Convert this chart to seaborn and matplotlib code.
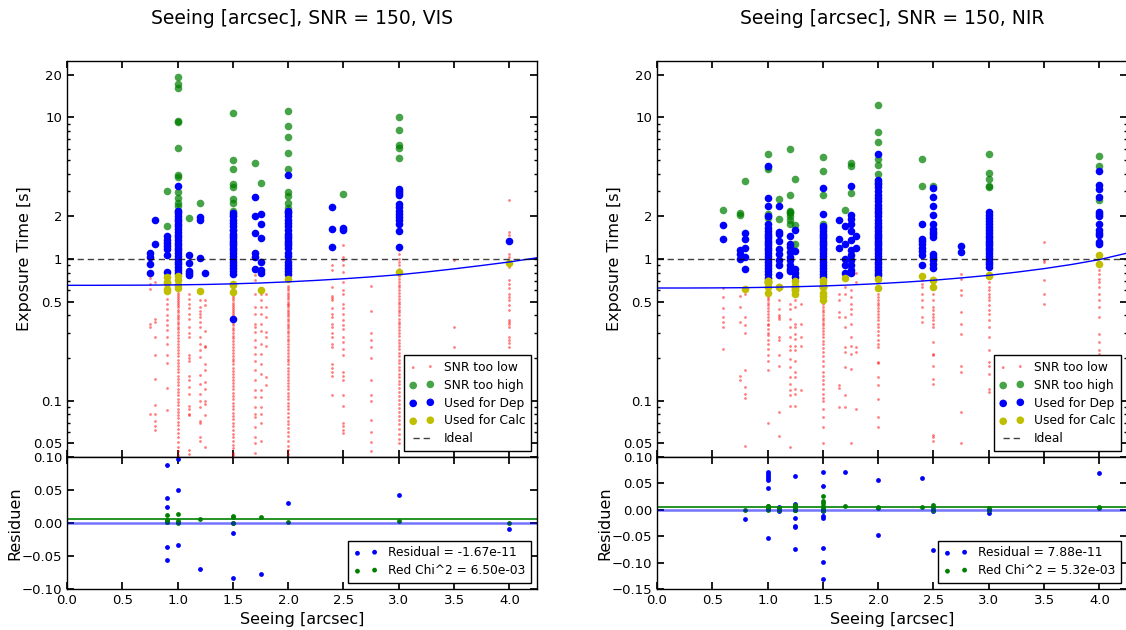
import numpy as np
import pandas as pd
import matplotlib
matplotlib.use("Agg")
import matplotlib.pyplot as plt
import seaborn as sns
from matplotlib.ticker import (FixedLocator, FixedFormatter, LogLocator,
                               NullFormatter, FuncFormatter)

# ---------------------------------------------------------------- VIS data
vis_low_seeing = [0.75, 0.8, 0.9, 1.0, 1.1, 1.2, 1.25, 1.5, 1.7, 1.75, 1.8,
                  2.0, 2.4, 2.5, 2.75, 3.0, 3.5, 4.0]
vis_low_times = [
    [0.73, 0.67, 0.61, 0.35, 0.33, 0.081],
    [0.69, 0.38, 0.36, 0.28, 0.21, 0.143, 0.093, 0.081, 0.072, 0.066, 0.062],
    [0.52, 0.485, 0.447, 0.40, 0.37, 0.34, 0.315, 0.28, 0.253, 0.21, 0.183, 0.122, 0.086],
    [0.60, 0.58, 0.56, 0.54, 0.52, 0.505, 0.49, 0.47, 0.455, 0.44, 0.42, 0.405, 0.39,
     0.375, 0.36, 0.345, 0.33, 0.318, 0.305, 0.29, 0.278, 0.265, 0.252, 0.24, 0.228,
     0.216, 0.205, 0.195, 0.185, 0.176, 0.167, 0.158, 0.15, 0.142, 0.135, 0.128, 0.121,
     0.115, 0.109, 0.103, 0.098, 0.093, 0.088, 0.083, 0.079, 0.075, 0.071, 0.067, 0.063,
     0.059, 0.055, 0.051, 0.047, 0.044, 0.041],
    [0.57, 0.52, 0.48, 0.45, 0.41, 0.38, 0.33, 0.30, 0.28, 0.21, 0.20, 0.19, 0.15, 0.14,
     0.125, 0.112, 0.092, 0.087, 0.081, 0.079, 0.045, 0.042],
    [0.51, 0.46, 0.43, 0.41, 0.39, 0.36, 0.33, 0.28, 0.25, 0.226, 0.203, 0.151, 0.132,
     0.112, 0.10, 0.09, 0.072, 0.069, 0.055, 0.052],
    [0.51, 0.47, 0.31, 0.245, 0.239, 0.182, 0.164, 0.135, 0.121, 0.10, 0.095, 0.079, 0.047],
    [0.57, 0.55, 0.53, 0.51, 0.49, 0.475, 0.46, 0.445, 0.43, 0.415, 0.40, 0.385, 0.37,
     0.355, 0.34, 0.327, 0.314, 0.30, 0.288, 0.276, 0.264, 0.252, 0.24, 0.229, 0.218,
     0.208, 0.198, 0.189, 0.18, 0.171, 0.163, 0.155, 0.147, 0.14, 0.133, 0.126, 0.12,
     0.114, 0.108, 0.102, 0.097, 0.092, 0.087, 0.082, 0.078, 0.074, 0.07, 0.066, 0.062,
     0.058, 0.055, 0.052, 0.049, 0.046, 0.043, 0.041],
    [1.09, 0.77, 0.71, 0.57, 0.46, 0.41, 0.35, 0.33, 0.305, 0.266, 0.239, 0.214, 0.192,
     0.164, 0.139, 0.118, 0.106, 0.09, 0.081, 0.077, 0.065, 0.055, 0.05, 0.043],
    [0.57, 0.51, 0.46, 0.41, 0.35, 0.31, 0.25, 0.214, 0.182, 0.155, 0.118, 0.106, 0.09,
     0.081, 0.069, 0.052],
    [0.57, 0.46, 0.39, 0.305, 0.281, 0.245, 0.147, 0.128],
    [0.64, 0.62, 0.6, 0.58, 0.56, 0.54, 0.52, 0.5, 0.485, 0.47, 0.455, 0.44, 0.425, 0.41,
     0.395, 0.38, 0.365, 0.35, 0.337, 0.324, 0.311, 0.298, 0.286, 0.274, 0.262, 0.25,
     0.239, 0.228, 0.218, 0.208, 0.198, 0.189, 0.18, 0.171, 0.163, 0.155, 0.147, 0.14,
     0.133, 0.126, 0.12, 0.114, 0.108, 0.102, 0.097, 0.092, 0.087, 0.082, 0.077, 0.072,
     0.068, 0.064, 0.06, 0.056, 0.052, 0.048, 0.045, 0.042],
    [0.90, 0.83, 0.63, 0.55, 0.53, 0.51, 0.45, 0.41, 0.39, 0.35, 0.33, 0.30, 0.28, 0.25,
     0.24, 0.18, 0.17, 0.16, 0.15, 0.11],
    [1.25, 1.03, 0.98, 0.90, 0.81, 0.69, 0.60, 0.57, 0.48, 0.45, 0.41, 0.37, 0.34, 0.32,
     0.28, 0.26, 0.23, 0.21, 0.16, 0.15, 0.14, 0.11, 0.092, 0.069, 0.066, 0.062, 0.059],
    [0.64, 0.43, 0.30, 0.27, 0.24, 0.20, 0.14, 0.11, 0.10, 0.073, 0.06, 0.051, 0.044],
    [1.15, 1.08, 1.0, 0.95, 0.9, 0.85, 0.76, 0.72, 0.69, 0.66, 0.63, 0.6, 0.575, 0.55,
     0.525, 0.5, 0.48, 0.46, 0.44, 0.42, 0.4, 0.38, 0.36, 0.345, 0.33, 0.315, 0.3, 0.285,
     0.27, 0.256, 0.243, 0.23, 0.218, 0.206, 0.195, 0.184, 0.174, 0.164, 0.155, 0.146,
     0.138, 0.13, 0.122, 0.115, 0.108, 0.101, 0.095, 0.089, 0.083, 0.078, 0.073, 0.068,
     0.063, 0.058, 0.054, 0.05],
    [0.98, 0.33, 0.24],
    [2.6, 1.55, 1.47, 1.09, 1.03, 0.92, 0.88, 0.71, 0.67, 0.62, 0.57, 0.54, 0.51, 0.47,
     0.44, 0.37, 0.36, 0.35, 0.33, 0.28, 0.27, 0.255, 0.24],
]

vis_high_seeing = [0.9, 1.0, 1.1, 1.2, 1.5, 1.7, 1.75, 2.0, 2.5, 3.0]
vis_high_times = [
    [3.0, 1.72],
    [19.3, 17.3, 16.0, 9.5, 9.2, 6.1, 3.9, 3.8, 2.95, 2.7, 2.5, 2.35, 2.2],
    [1.96],
    [2.5],
    [10.7, 5.0, 4.3, 3.4, 3.2, 2.65, 2.5, 2.2, 2.05, 1.6],
    [4.8],
    [3.45],
    [11.1, 8.7, 7.3, 5.6, 4.3, 2.95, 2.8, 2.5, 2.3, 2.15],
    [2.9],
    [10.1, 8.2, 6.35, 6.12, 5.2],
]

vis_dep_seeing = [0.75, 0.8, 0.9, 1.0, 1.1, 1.2, 1.25, 1.5, 1.7, 1.75, 2.0, 2.4,
                  2.5, 3.0, 4.0]
vis_dep_times = [
    [1.10, 1.04, 0.92, 0.80],
    [1.90, 1.28],
    [1.45, 1.37, 1.30, 1.24, 1.18, 1.06, 0.81],
    [3.3, 2.2, 2.1, 2.0, 1.92, 1.85, 1.78, 1.7, 1.62, 1.55, 1.48, 1.42, 1.36, 1.3, 1.25,
     1.2, 1.15, 1.1, 1.05, 1.0, 0.96, 0.92, 0.88, 0.84, 0.8],
    [1.06, 0.94, 0.82, 0.79, 0.77],
    [1.98, 1.90, 1.02],
    [0.79],
    [2.1, 2.0, 1.9, 1.8, 1.7, 1.6, 1.5, 1.45, 1.4, 1.35, 1.3, 1.25, 1.2, 1.15, 1.1, 1.05,
     1.0, 0.95, 0.9, 0.86, 0.82, 0.78, 0.38],
    [2.74, 2.02, 1.53, 1.10, 1.04, 0.85],
    [2.07, 1.78, 1.40, 0.96, 0.84, 0.80],
    [3.9, 2.2, 2.1, 2.0, 1.9, 1.8, 1.7, 1.6, 1.5, 1.45, 1.4, 1.35, 1.3, 1.25, 1.2, 1.1,
     1.05, 0.95, 0.9, 0.86, 0.82, 0.78],
    [2.31, 1.63, 1.22],
    [1.66, 1.59],
    [3.14, 3.02, 2.93, 2.82, 2.46, 2.33, 2.18, 2.09, 1.98, 1.88, 1.78, 1.58, 1.22],
    [1.35],
]

vis_calc_seeing = [0.9, 1.0, 1.2, 1.5, 1.75, 2.0, 3.0, 4.0]
vis_calc_times = [
    [0.743, 0.693, 0.679, 0.618, 0.599],
    [0.754, 0.707, 0.657, 0.624],
    [0.594],
    [0.668, 0.653, 0.585],
    [0.60],
    [0.72],
    [0.81],
    [0.944],
]

vis_fit_seeing = [0.0, 0.25, 0.5, 0.75, 1.0, 1.25, 1.5, 1.75, 2.0, 2.25, 2.5, 2.75,
                  3.0, 3.25, 3.5, 3.75, 4.0, 4.25]
vis_fit_time = [0.652, 0.652, 0.653, 0.654, 0.657, 0.661, 0.668, 0.677, 0.690, 0.706,
                0.725, 0.748, 0.774, 0.810, 0.852, 0.900, 0.953, 1.020]

vis_res_seeing = [0.9, 1.0, 1.2, 1.5, 1.75, 2.0, 3.0, 4.0]
vis_residuals = [
    [0.088, 0.038, 0.024, -0.037, -0.056],
    [0.097, 0.050, 0.0015, -0.033],
    [-0.069],
    [0.0, -0.015, -0.083],
    [-0.078],
    [0.030],
    [0.043],
    [-0.009],
]
vis_chi = [
    [0.012, 0.0048, 0.003, 0.002, 0.0012],
    [0.014, 0.0035, 0.0018, 0.0],
    [0.0068],
    [0.0003, 0.0085, 0.010],
    [0.0086],
    [0.0015],
    [0.0025],
    [0.0001],
]
vis_mean_residual = -1.67e-11
vis_red_chi2 = 6.50e-03

# ---------------------------------------------------------------- NIR data
nir_low_seeing = [0.6, 0.75, 0.8, 1.0, 1.1, 1.2, 1.25, 1.3, 1.5, 1.65, 1.7, 1.75,
                  1.8, 2.0, 2.4, 2.5, 2.75, 3.0, 3.5, 4.0]
nir_low_times = [
    [0.62, 0.54, 0.45, 0.39, 0.36, 0.33, 0.23],
    [0.55, 0.46, 0.36, 0.15, 0.14],
    [0.57, 0.39, 0.34, 0.30, 0.164, 0.125, 0.112, 0.104, 0.048],
    [0.57, 0.55, 0.53, 0.51, 0.49, 0.47, 0.45, 0.43, 0.41, 0.39, 0.37, 0.35, 0.34, 0.32,
     0.30, 0.29, 0.27, 0.25, 0.23, 0.21, 0.19, 0.165, 0.07],
    [0.60, 0.51, 0.446, 0.40, 0.389, 0.379, 0.281, 0.266, 0.209, 0.177, 0.083, 0.056],
    [0.484, 0.446, 0.379, 0.331, 0.281, 0.245, 0.226, 0.198, 0.172, 0.147, 0.132, 0.118,
     0.109, 0.092, 0.047],
    [0.51, 0.458, 0.349, 0.331, 0.296, 0.272, 0.245, 0.226, 0.192, 0.159, 0.147, 0.121,
     0.112, 0.092],
    [0.484, 0.349, 0.281, 0.245, 0.118],
    [0.52, 0.5, 0.48, 0.46, 0.44, 0.42, 0.40, 0.385, 0.37, 0.355, 0.34, 0.325, 0.31,
     0.295, 0.28, 0.265, 0.25, 0.235, 0.22, 0.205, 0.19, 0.175, 0.16, 0.15, 0.14, 0.13,
     0.12, 0.112, 0.105, 0.1, 0.087, 0.077, 0.065, 0.05],
    [0.569, 0.51, 0.42, 0.389, 0.128, 0.123, 0.09],
    [0.634, 0.569, 0.389, 0.331, 0.239, 0.22, 0.172, 0.109, 0.09],
    [0.60, 0.54, 0.484, 0.446, 0.411, 0.349, 0.281, 0.245, 0.214, 0.168, 0.05],
    [0.79, 0.688, 0.239, 0.22, 0.088],
    [0.569, 0.54, 0.51, 0.49, 0.47, 0.45, 0.43, 0.41, 0.39, 0.37, 0.35, 0.33, 0.31, 0.29,
     0.27, 0.25, 0.24, 0.188, 0.185, 0.147, 0.128, 0.103, 0.077, 0.065],
    [0.707, 0.669, 0.634, 0.569, 0.51, 0.458, 0.389, 0.36],
    [0.569, 0.51, 0.458, 0.434, 0.411, 0.389, 0.369, 0.349, 0.331, 0.259, 0.214, 0.209,
     0.177, 0.143, 0.132, 0.057, 0.055, 0.052],
    [0.788, 0.726, 0.60, 0.554, 0.422, 0.349, 0.296, 0.177, 0.159, 0.083, 0.05],
    [0.688, 0.634, 0.60, 0.569, 0.54, 0.51, 0.47, 0.434, 0.411, 0.369, 0.331, 0.281,
     0.226, 0.188, 0.177, 0.155, 0.121, 0.115],
    [1.32, 0.99, 0.95, 0.707, 0.569, 0.484],
    [0.902, 0.832, 0.788, 0.726, 0.688, 0.634, 0.569, 0.51, 0.458, 0.389, 0.296, 0.259,
     0.226, 0.214],
]

nir_high_seeing = [0.6, 0.75, 0.8, 1.0, 1.1, 1.2, 1.25, 1.5, 1.7, 1.75, 2.0, 2.4,
                   2.5, 3.0, 4.0]
nir_high_times = [
    [2.23],
    [2.1, 2.03],
    [3.56],
    [5.5, 4.47, 4.3, 2.07, 2.0, 1.95],
    [2.67, 1.93],
    [5.95, 2.83, 2.2, 2.15, 2.1, 2.0, 1.9, 1.78],
    [3.66, 1.74, 1.28],
    [5.26, 4.16, 2.81, 1.78],
    [2.21],
    [4.76, 4.5, 2.94],
    [12.2, 7.9, 6.7, 5.1, 4.6, 4.0, 3.5, 3.45],
    [5.1, 3.3],
    [3.3],
    [5.55, 4.05, 3.7, 3.26, 3.2],
    [5.3, 4.5, 2.6],
]

nir_dep_seeing = [0.6, 0.75, 0.8, 1.0, 1.1, 1.2, 1.25, 1.5, 1.65, 1.7, 1.75, 1.8,
                  2.0, 2.4, 2.5, 2.75, 3.0, 4.0]
nir_dep_times = [
    [1.75, 1.38],
    [1.16, 1.09, 1.0],
    [1.53, 1.39, 1.20, 1.03, 0.85],
    [4.5, 2.7, 2.37, 2.0, 1.78, 1.65, 1.58, 1.5, 1.45, 1.4, 1.35, 1.3, 1.25, 1.2, 1.15,
     1.1, 1.05, 1.0, 0.95, 0.9, 0.86, 0.82, 0.78, 0.74],
    [2.36, 1.55, 1.49, 1.35, 1.18, 1.09, 0.98, 0.90, 0.775],
    [1.45, 1.28, 1.22, 1.12, 1.03, 0.98, 0.90, 0.85, 0.82],
    [1.59, 1.14, 0.85, 0.79, 0.75],
    [3.17, 2.07, 1.72, 1.65, 1.58, 1.5, 1.45, 1.4, 1.35, 1.3, 1.25, 1.2, 1.15, 1.1, 1.05,
     1.0, 0.95, 0.9, 0.86, 0.82, 0.78, 0.75],
    [1.88, 1.39, 1.20],
    [1.71, 1.28, 1.0, 0.90, 0.79],
    [3.26, 2.05, 1.93, 1.78, 1.57, 1.36, 1.15, 1.06, 0.98, 0.90, 0.83, 0.79],
    [1.45, 1.20],
    [5.5, 3.6, 3.4, 3.2, 3.0, 2.85, 2.7, 2.55, 2.4, 2.3, 2.2, 2.1, 2.0, 1.9, 1.8, 1.72,
     1.65, 1.58, 1.5, 1.45, 1.4, 1.35, 1.3, 1.25, 1.2, 1.15, 1.1, 1.05, 1.0, 0.96, 0.92,
     0.88, 0.84, 0.8, 0.77],
    [1.78, 1.39, 1.33, 1.27, 1.2, 1.13, 1.06, 0.90],
    [3.17, 2.74, 2.37, 2.06, 1.78, 1.63, 1.55, 1.49, 1.42, 1.09, 1.03, 0.98, 0.92, 0.86],
    [1.23, 1.12],
    [2.15, 2.05, 1.95, 1.85, 1.76, 1.68, 1.6, 1.52, 1.45, 1.4, 1.35, 1.3, 1.25, 1.2, 1.15,
     1.1, 1.05, 1.0, 0.96, 0.92, 0.88],
    [4.16, 3.32, 3.14, 2.74, 2.15, 2.07, 2.0, 1.78, 1.59, 1.53, 1.47, 1.32, 1.27],
]

nir_calc_seeing = [0.8, 1.0, 1.1, 1.25, 1.5, 1.7, 2.0, 2.4, 2.5, 3.0, 4.0]
nir_calc_times = [
    [0.613],
    [0.702, 0.699, 0.695, 0.691, 0.688, 0.673, 0.633, 0.577],
    [0.639, 0.631],
    [0.701, 0.648, 0.644, 0.636, 0.621, 0.606, 0.604, 0.563],
    [0.716, 0.691, 0.645, 0.642, 0.633, 0.630, 0.572, 0.547, 0.514],
    [0.730],
    [0.726, 0.622],
    [0.757],
    [0.714, 0.706, 0.631],
    [0.761, 0.767],
    [1.060, 0.927],
]

nir_fit_seeing = [0.0, 0.25, 0.5, 0.75, 1.0, 1.25, 1.5, 1.75, 2.0, 2.25, 2.5, 2.75,
                  3.0, 3.25, 3.5, 3.75, 4.0, 4.25]
nir_fit_time = [0.624, 0.624, 0.625, 0.627, 0.631, 0.637, 0.645, 0.656, 0.670, 0.687,
                0.708, 0.735, 0.767, 0.807, 0.855, 0.915, 0.990, 1.100]

nir_res_seeing = [0.8, 1.0, 1.1, 1.25, 1.5, 1.7, 2.0, 2.4, 2.5, 3.0, 4.0]
nir_residuals = [
    [-0.018],
    [0.071, 0.068, 0.064, 0.060, 0.057, 0.042, 0.002, -0.054],
    [0.006, -0.002],
    [0.064, 0.011, 0.007, -0.001, -0.016, -0.031, -0.033, -0.074],
    [0.071, 0.046, 0.0, -0.003, -0.012, -0.015, -0.073, -0.098, -0.131],
    [0.071],
    [0.056, -0.048],
    [0.060],
    [0.006, -0.002, -0.077],
    [-0.006, 0.0],
    [0.070, -0.063],
]
nir_chi = [
    [0.0005],
    [0.0076, 0.007, 0.0062, 0.0052, 0.0045, 0.0025, 0.0, 0.0042],
    [0.0025, 0.0],
    [0.0065, 0.0002, 0.0001, 0.0, 0.0004, 0.0015, 0.0017, 0.0098],
    [0.0078, 0.003, 0.0, 0.0, 0.0002, 0.0004, 0.012, 0.016, 0.026],
    [0.0077],
    [0.0047, 0.0034],
    [0.0052],
    [0.0094, 0.0001, 0.0],
    [0.003, 0.0005],
    [0.005, 0.004],
]
nir_mean_residual = 7.88e-11
nir_red_chi2 = 5.32e-03

exposure_ticks = [0.05, 0.1, 0.5, 1, 2, 10, 20]
exposure_ticklabels = ["0.05", "0.1", "0.5", "1", "2", "10", "20"]
seeing_ticks = [0.0, 0.5, 1.0, 1.5, 2.0, 2.5, 3.0, 3.5, 4.0]

# ---------------------------------------------------------------- style
sns.set_theme(style="ticks")
plt.rcParams.update({
    "font.family": ["DejaVu Sans"],
    "axes.edgecolor": "black",
    "axes.linewidth": 1.0,
    "xtick.direction": "in",
    "ytick.direction": "in",
    "xtick.top": True,
    "ytick.right": True,
    "xtick.major.size": 5,
    "ytick.major.size": 5,
    "xtick.minor.size": 2.5,
    "ytick.minor.size": 2.5,
    "xtick.color": "black",
    "ytick.color": "black",
    "xtick.labelsize": 9.5,
    "ytick.labelsize": 9.5,
    "axes.labelsize": 11.5,
    "text.color": "black",
    "axes.labelcolor": "black",
    "legend.fontsize": 8.8,
    "legend.frameon": True,
    "legend.fancybox": False,
    "legend.edgecolor": "black",
    "legend.framealpha": 1.0,
    "axes.unicode_minus": True,
})


def columns(seeing, values):
    counts = [len(v) for v in values]
    return pd.DataFrame({"seeing": np.repeat(seeing, counts),
                         "value": np.concatenate(values)})


def minus_fmt(fmt):
    return FuncFormatter(lambda v, _: (fmt % v).replace("-", "\u2212"))


def draw_panel(ax, axr, title, low, high, dep, calc, fit, res, chi,
               mean_res, red_chi2, res_ylim, res_ticks):
    sns.scatterplot(data=low, x="seeing", y="value", ax=ax, color="red", s=4,
                    alpha=0.5, linewidth=0, marker="o", label="SNR too low")
    sns.scatterplot(data=high, x="seeing", y="value", ax=ax, color="green",
                    s=30, alpha=0.72, linewidth=0, label="SNR too high")
    sns.scatterplot(data=dep, x="seeing", y="value", ax=ax, color="blue",
                    s=30, linewidth=0, label="Used for Dep")
    sns.scatterplot(data=calc, x="seeing", y="value", ax=ax, color="#bfbf00",
                    s=30, linewidth=0, label="Used for Calc")
    sns.lineplot(data=fit, x="seeing", y="value", ax=ax, color="blue", lw=1,
                 legend=False)
    ax.axhline(1.0, color="black", ls=(0, (4.5, 2.8)), lw=1, alpha=0.75,
               label="Ideal")

    ax.set_yscale("log")
    ax.set_ylim(0.04, 25)
    ax.set_xlim(0, 4.25)
    ax.yaxis.set_major_locator(FixedLocator(exposure_ticks))
    ax.yaxis.set_major_formatter(FixedFormatter(exposure_ticklabels))
    ax.yaxis.set_minor_locator(LogLocator(subs=np.arange(2, 10)))
    ax.yaxis.set_minor_formatter(NullFormatter())
    ax.xaxis.set_major_locator(FixedLocator(seeing_ticks))
    ax.tick_params(axis="x", labelbottom=False)
    ax.set_xlabel("")
    ax.set_ylabel("Exposure Time [s]")
    ax.yaxis.set_label_coords(-0.074, 0.5)
    ax.set_title(title, fontsize=13.5, pad=27)

    h, l = ax.get_legend_handles_labels()
    ax.legend(h, l, loc="lower right", scatterpoints=2, numpoints=2,
              labelspacing=0.4, borderpad=0.45, handletextpad=0.8,
              handlelength=2.0, borderaxespad=0.5)

    sns.scatterplot(data=res, x="seeing", y="value", ax=axr, color="blue",
                    s=12, linewidth=0,
                    label=f"Residual = {mean_res:.2e}")
    sns.scatterplot(data=chi, x="seeing", y="value", ax=axr, color="green",
                    s=12, linewidth=0,
                    label=f"Red Chi^2 = {red_chi2:.2e}")
    axr.axhline(mean_res, color="blue", lw=1.8, alpha=0.55)
    axr.axhline(red_chi2, color="green", lw=1.2)
    axr.set_xlim(0, 4.25)
    axr.set_ylim(*res_ylim)
    axr.yaxis.set_major_locator(FixedLocator(res_ticks))
    axr.yaxis.set_major_formatter(minus_fmt("%.2f"))
    axr.xaxis.set_major_locator(FixedLocator(seeing_ticks))
    axr.xaxis.set_major_formatter(FuncFormatter(lambda v, _: f"{v:.1f}"))
    axr.set_xlabel("Seeing [arcsec]")
    axr.set_ylabel("Residuen")
    axr.yaxis.set_label_coords(-0.096, 0.5)
    h, l = axr.get_legend_handles_labels()
    axr.legend(h, l, loc="lower right", scatterpoints=2, numpoints=2,
               labelspacing=0.4, borderpad=0.45, handletextpad=0.8,
               borderaxespad=0.5)


fig = plt.figure(figsize=(11.26, 6.30), dpi=100)
W, H = 1126.0, 630.0
top_box = lambda x0: [x0 / W, (H - 457) / H, 470 / W, 396 / H]
res_box = lambda x0: [x0 / W, (H - 589) / H, 470 / W, 132 / H]

ax_vis = fig.add_axes(top_box(67))
ax_vis_r = fig.add_axes(res_box(67))
ax_nir = fig.add_axes(top_box(657))
ax_nir_r = fig.add_axes(res_box(657))

draw_panel(ax_vis, ax_vis_r, "Seeing [arcsec], SNR = 150, VIS",
           columns(vis_low_seeing, vis_low_times),
           columns(vis_high_seeing, vis_high_times),
           columns(vis_dep_seeing, vis_dep_times),
           columns(vis_calc_seeing, vis_calc_times),
           pd.DataFrame({"seeing": vis_fit_seeing, "value": vis_fit_time}),
           columns(vis_res_seeing, vis_residuals),
           columns(vis_res_seeing, vis_chi),
           vis_mean_residual, vis_red_chi2, (-0.1, 0.1),
           [-0.10, -0.05, 0.0, 0.05, 0.10])

draw_panel(ax_nir, ax_nir_r, "Seeing [arcsec], SNR = 150, NIR",
           columns(nir_low_seeing, nir_low_times),
           columns(nir_high_seeing, nir_high_times),
           columns(nir_dep_seeing, nir_dep_times),
           columns(nir_calc_seeing, nir_calc_times),
           pd.DataFrame({"seeing": nir_fit_seeing, "value": nir_fit_time}),
           columns(nir_res_seeing, nir_residuals),
           columns(nir_res_seeing, nir_chi),
           nir_mean_residual, nir_red_chi2, (-0.15, 0.1),
           [-0.15, -0.10, -0.05, 0.0, 0.05, 0.10])

fig.savefig("out.png", dpi=100)
